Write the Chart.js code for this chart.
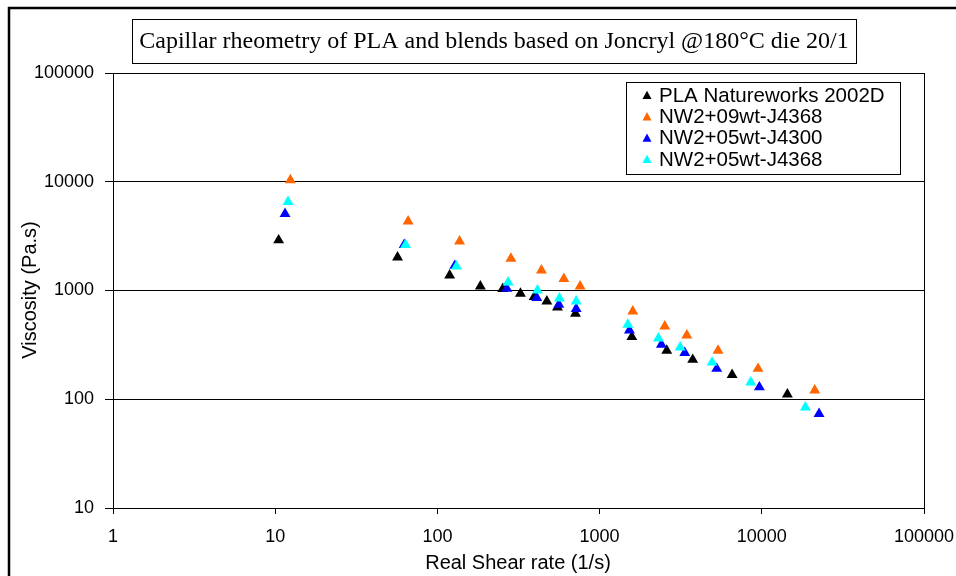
<!DOCTYPE html>
<html>
<head>
<meta charset="utf-8">
<script src="https://cdn.jsdelivr.net/npm/chart.js@4.4.1/dist/chart.umd.min.js"></script>
<style>
  body { margin: 0; background: #fff; }
  canvas { display: block; }
</style>
</head>
<body>
<canvas id="rheoChart" width="956" height="576"></canvas>
<script>
// values (shear rate in 1/s, viscosity in Pa.s)
var plaShear = [10.5, 56.8, 119, 184, 253, 325, 395, 473, 550, 710, 1580, 2595, 3750, 6560, 14380];
var plaVisc  = [2900, 2020, 1380, 1094, 1035, 936, 873, 796, 700, 613, 374, 280, 231, 168, 111];

var nw09Shear = [12.4, 66, 137, 284, 438, 602, 758, 1602, 2523, 3450, 5372, 9480, 21200];
var nw09Visc  = [10370, 4335, 2837, 1965, 1535, 1279, 1094, 644, 469, 387, 280, 191, 121];

var nw4300Shear = [11.5, 62.4, 128, 268, 410, 561, 717, 1527, 2404, 3350, 5275, 9660, 22540];
var nw4300Visc  = [5070, 2630, 1690, 1040, 855, 741, 677, 431, 318, 267, 191, 129, 73.3];

var nw4368Shear = [12.0, 63.6, 131, 273, 414, 565, 717, 1493, 2305, 3135, 4935, 8550, 18550];
var nw4368Visc  = [6530, 2630, 1671, 1190, 1005, 848, 796, 486, 363, 300, 218, 143, 84.2];

var seriesLabels = ["PLA Natureworks 2002D", "NW2+09wt-J4368", "NW2+05wt-J4300", "NW2+05wt-J4368"];
var seriesColors = ["#000000", "#FF6600", "#0000FF", "#00FFFF"];

var xTicks = [1, 10, 100, 1000, 10000, 100000];
var yTicks = [10, 100, 1000, 10000, 100000];

var chartTitle = "Capillar rheometry of PLA and blends based on Joncryl @180\u00B0C die 20/1";
var xTitle = "Real Shear rate (1/s)";
var yTitle = "Viscosity (Pa.s)";

function toPoints(xs, ys) {
  return xs.map(function(x, i) { return { x: x, y: ys[i] }; });
}

var allX = [plaShear, nw09Shear, nw4300Shear, nw4368Shear];
var allY = [plaVisc, nw09Visc, nw4300Visc, nw4368Visc];

var datasets = seriesLabels.map(function(label, i) {
  return {
    label: label,
    data: toPoints(allX[i], allY[i]),
    pointStyle: 'triangle',
    pointRadius: 6.3,
    pointHoverRadius: 6.3,
    borderWidth: 0,
    backgroundColor: seriesColors[i],
    borderColor: seriesColors[i],
    showLine: false,
    order: 4 - i   // later series on top, like the original
  };
});

// frame, title box, legend box and axis titles
var decor = {
  id: 'decor',
  afterDraw: function(chart) {
    var ctx = chart.ctx;
    var a = chart.chartArea;
    ctx.save();

    // right edge of plot area
    ctx.strokeStyle = '#000';
    ctx.lineWidth = 1;
    ctx.beginPath();
    ctx.moveTo(Math.round(a.right) + 0.5, a.top);
    ctx.lineTo(Math.round(a.right) + 0.5, a.bottom);
    ctx.stroke();

    // outer frame
    ctx.lineWidth = 2.5;
    ctx.strokeRect(9, 8, 980, 600);

    // title box
    ctx.lineWidth = 1;
    ctx.fillStyle = '#fff';
    ctx.fillRect(132.5, 19.5, 724, 44);
    ctx.strokeRect(132.5, 19.5, 724, 44);
    ctx.fillStyle = '#000';
    ctx.font = '24px "Liberation Serif", "Times New Roman", serif';
    ctx.textAlign = 'center';
    ctx.textBaseline = 'middle';
    ctx.fillText(chartTitle, 494, 42);

    // legend box
    ctx.fillStyle = '#fff';
    ctx.fillRect(626.5, 82.5, 274, 92);
    ctx.strokeRect(626.5, 82.5, 274, 92);
    ctx.font = '20.5px "Liberation Sans", Arial, sans-serif';
    ctx.textAlign = 'left';
    for (var i = 0; i < seriesLabels.length; i++) {
      var cy = 96 + i * 21.3;
      var r = 5.2;
      ctx.fillStyle = seriesColors[i];
      ctx.beginPath();
      ctx.moveTo(647, cy - r);
      ctx.lineTo(647 + r * 0.866, cy + r * 0.6);
      ctx.lineTo(647 - r * 0.866, cy + r * 0.6);
      ctx.closePath();
      ctx.fill();
      ctx.fillStyle = '#000';
      ctx.fillText(seriesLabels[i], 659, cy);
    }

    // axis titles
    ctx.font = '20px "Liberation Sans", Arial, sans-serif';
    ctx.textAlign = 'center';
    ctx.fillText(xTitle, 518, 563);
    ctx.translate(30, 290);
    ctx.rotate(-Math.PI / 2);
    ctx.fillText(yTitle, 0, 0);

    ctx.restore();
  }
};

Chart.defaults.font.family = '"Liberation Sans", Arial, sans-serif';
Chart.defaults.color = '#000';

var ctx = document.getElementById('rheoChart');
var rheoChart = new Chart(ctx, {
  type: 'scatter',
  data: { datasets: datasets },
  options: {
    responsive: false,
    animation: false,
    devicePixelRatio: 1,
    layout: { padding: { top: 73, right: 32, left: 0, bottom: 0 } },
    plugins: {
      legend: { display: false },
      title: { display: false },
      tooltip: { enabled: false }
    },
    scales: {
      x: {
        type: 'logarithmic',
        min: 1,
        max: 100000,
        afterBuildTicks: function(scale) {
          scale.ticks = xTicks.map(function(v) { return { value: v }; });
        },
        afterFit: function(scale) {
          scale.height = 68;
          scale.paddingLeft = 0;
          scale.paddingRight = 0;
        },
        ticks: {
          callback: function(v) { return String(v); },
          font: { size: 18 },
          color: '#000',
          padding: 12,
          maxRotation: 0,
          autoSkip: false
        },
        grid: { drawOnChartArea: false, tickLength: 6, color: '#000', lineWidth: 1 },
        border: { color: '#000', width: 1 }
      },
      y: {
        type: 'logarithmic',
        min: 10,
        max: 100000,
        afterBuildTicks: function(scale) {
          scale.ticks = yTicks.map(function(v) { return { value: v }; });
        },
        afterFit: function(scale) {
          scale.width = 113;
          scale.paddingTop = 0;
          scale.paddingBottom = 0;
        },
        ticks: {
          callback: function(v) { return String(v); },
          font: { size: 18 },
          color: '#000',
          padding: 11,
          autoSkip: false
        },
        grid: { tickLength: 8, color: '#000', lineWidth: 1 },
        border: { color: '#000', width: 1 }
      }
    }
  },
  plugins: [decor]
});
</script>
</body>
</html>
